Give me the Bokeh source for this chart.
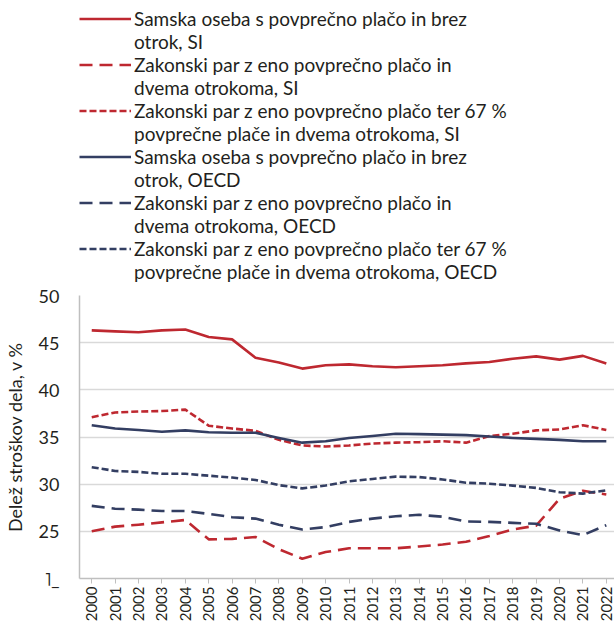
import math
from bokeh.plotting import figure
from bokeh.layouts import column
from bokeh.models import (ColumnDataSource, Legend, LegendItem, FixedTicker, Range1d)
from bokeh.embed import file_html
from bokeh.resources import INLINE

years = list(range(2000, 2023))

si_single = [46.3, 46.2, 46.1, 46.3, 46.4, 45.6, 45.35, 43.4, 42.9, 42.25, 42.6,
             42.7, 42.5, 42.4, 42.5, 42.6, 42.8, 42.95, 43.3, 43.55, 43.2, 43.6, 42.8]
si_couple = [25.0, 25.5, 25.7, 25.95, 26.2, 24.15, 24.2, 24.4, 23.1, 22.1, 22.8,
             23.2, 23.2, 23.2, 23.4, 23.6, 23.9, 24.5, 25.2, 25.6, 28.45, 29.3, 28.9]
si_couple67 = [37.1, 37.6, 37.7, 37.75, 37.9, 36.2, 35.9, 35.65, 34.7, 34.1, 34.0,
               34.1, 34.3, 34.4, 34.45, 34.55, 34.4, 35.1, 35.35, 35.7, 35.8, 36.25, 35.75]
oecd_single = [36.25, 35.9, 35.75, 35.55, 35.7, 35.5, 35.45, 35.45, 34.9, 34.4, 34.55,
               34.9, 35.1, 35.35, 35.3, 35.25, 35.2, 35.05, 34.9, 34.8, 34.7, 34.55, 34.55]
oecd_couple = [27.7, 27.4, 27.3, 27.15, 27.15, 26.85, 26.5, 26.35, 25.7, 25.2, 25.45,
               26.0, 26.35, 26.6, 26.75, 26.55, 26.05, 26.0, 25.9, 25.8, 25.1, 24.6, 25.65]
oecd_couple67 = [31.8, 31.4, 31.3, 31.1, 31.1, 30.9, 30.7, 30.45, 29.9, 29.55, 29.85,
                 30.3, 30.55, 30.8, 30.75, 30.5, 30.15, 30.05, 29.85, 29.6, 29.15, 29.0, 29.35]

labels = [
    ["Samska oseba s povprečno plačo in brez", "otrok, SI"],
    ["Zakonski par z eno povprečno plačo in", "dvema otrokoma, SI"],
    ["Zakonski par z eno povprečno plačo ter 67 %", "povprečne plače in dvema otrokoma, SI"],
    ["Samska oseba s povprečno plačo in brez", "otrok, OECD"],
    ["Zakonski par z eno povprečno plačo in", "dvema otrokoma, OECD"],
    ["Zakonski par z eno povprečno plačo ter 67 %", "povprečne plače in dvema otrokoma, OECD"],
]
y_ticks = [20, 25, 30, 35, 40, 45, 50]

RED = "#BE2830"
NAVY = "#333E62"
FONT = "Lato"
TXT = "#231F20"

styles = [(RED, "solid"), (RED, "13 7"), (RED, "7 3"),
          (NAVY, "solid"), (NAVY, "13 7"), (NAVY, "7 3")]
series = [si_single, si_couple, si_couple67, oecd_single, oecd_couple, oecd_couple67]

W = 614
LEG_H = 283
MAIN_H = 342
NAN = float("nan")

# ---- legend figure ----
pl = figure(width=W, height=LEG_H, output_backend="svg", toolbar_location=None,
            x_range=Range1d(0, 1), y_range=Range1d(0, 1),
            min_border_left=76, min_border_top=7, min_border_right=0, min_border_bottom=0)
pl.outline_line_color = None
pl.axis.visible = False
pl.grid.visible = False
blank = pl.line(x=[NAN], y=[NAN], line_alpha=0)
items = []
for (col, dash), lab in zip(styles, labels):
    r = pl.line(x=[NAN], y=[NAN], line_color=col, line_width=2.6, line_dash=dash)
    items.append(LegendItem(label=lab[0], renderers=[r]))
    items.append(LegendItem(label=lab[1], renderers=[blank]))
legend = Legend(items=items, location="top_left", orientation="vertical")
legend.border_line_color = None
legend.background_fill_alpha = 0
legend.margin = 0
legend.padding = 0
legend.spacing = 0
legend.glyph_width = 52
legend.glyph_height = 23
legend.label_height = 23
legend.label_standoff = 3
legend.label_text_font = FONT
legend.label_text_font_size = "19px"
legend.label_text_color = TXT
legend.label_text_baseline = "middle"
pl.add_layout(legend, "center")

# ---- main chart ----
p = figure(width=W, height=MAIN_H, output_backend="svg", toolbar_location=None,
           x_range=Range1d(1999.477, 2022.35), y_range=Range1d(20, 50),
           min_border_left=76, min_border_right=0, min_border_top=12,
           min_border_bottom=47)
p.outline_line_color = None

for vals, (col, dash) in zip(series, styles):
    src = ColumnDataSource(dict(x=years, y=vals))
    p.line("x", "y", source=src, line_color=col, line_width=2.6,
           line_dash=dash, line_join="round")

p.xaxis.ticker = FixedTicker(ticks=years)
p.xaxis.major_label_orientation = math.pi / 2
p.xaxis.major_label_text_font = FONT
p.xaxis.major_label_text_font_size = "15px"
p.xaxis.major_label_text_color = TXT
p.xaxis.axis_line_color = "#BFBFBF"
p.xaxis.axis_line_width = 1.5
p.xaxis.major_tick_line_color = "#BFBFBF"
p.xaxis.major_tick_in = 0
p.xaxis.major_tick_out = 5
p.xaxis.minor_tick_line_color = None
p.xaxis.major_label_standoff = 3

p.yaxis.ticker = FixedTicker(ticks=y_ticks)
p.yaxis.major_label_overrides = {20: "˥_"}
p.yaxis.major_label_text_font = FONT
p.yaxis.major_label_text_font_size = "18px"
p.yaxis.major_label_text_color = TXT
p.yaxis.axis_line_color = "#BFBFBF"
p.yaxis.axis_line_width = 1.5
p.yaxis.major_tick_line_color = None
p.yaxis.minor_tick_line_color = None
p.yaxis.major_label_standoff = 14
p.yaxis.axis_label = "Delež stroškov dela, v %"
p.yaxis.axis_label_text_font = FONT
p.yaxis.axis_label_text_font_size = "18px"
p.yaxis.axis_label_text_font_style = "normal"
p.yaxis.axis_label_text_color = TXT
p.yaxis.axis_label_standoff = 10

p.xgrid.grid_line_color = None
p.ygrid.grid_line_color = "#D9D9D9"
p.ygrid.grid_line_width = 1.5
p.ygrid.ticker = FixedTicker(ticks=[25, 30, 35, 40, 45, 50])

layout = column(pl, p, spacing=0)
open("out.html", "w").write(file_html(layout, INLINE))
